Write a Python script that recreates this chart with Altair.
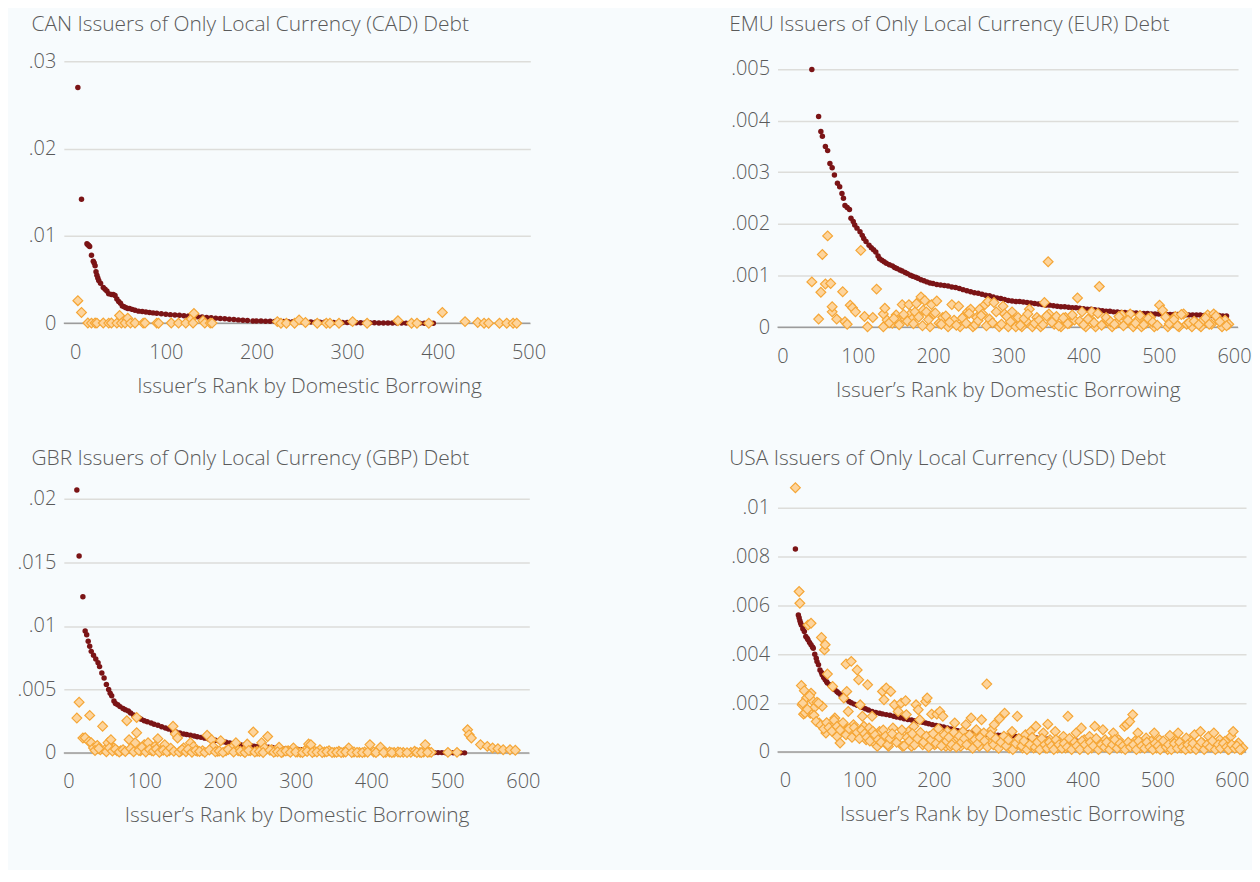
import altair as alt
import pandas as pd

FONT = "Open Sans"
BG = "#F7FBFD"
DARK = "#7B1416"
DIA_FILL = "#FDD49C"
DIA_STROKE = "#F5A636"
TXT = "#5A5A5A"
X_TITLE = "Issuer\u2019s Rank by Domestic Borrowing"

# ---------------- CAN (values in units of 1e-4) ----------------
CAN_TITLE = "CAN Issuers of Only Local Currency (CAD) Debt"
CAN_DARK = [(3, 270), (7, 142), (13, 91), (14, 90), (15, 89), (16, 88), (18, 78), (20, 71), (21, 69),
            (22, 66), (23, 59), (24, 55), (25, 52), (26, 49), (28, 46), (31, 41), (33, 39), (35, 37),
            (37, 34), (40, 33), (42, 33), (44, 32), (46, 28), (48, 25), (50, 23), (52, 20), (54, 19),
            (56, 18), (58, 17), (60, 17), (63, 16), (66, 15), (70, 14), (74, 13.5), (78, 13), (82, 12.5),
            (86, 12), (90, 11.5), (95, 11), (100, 10.5), (105, 10), (110, 9.6), (115, 9.2), (120, 8.8),
            (125, 8.4), (130, 8), (135, 7.6), (140, 7.2), (145, 6.8), (150, 6.4), (155, 6), (160, 5.6),
            (165, 5.2), (170, 4.8), (175, 4.4), (180, 4), (185, 3.6), (190, 3.2), (196, 2.8), (200, 2.7),
            (205, 2.6), (210, 2.5), (215, 2.4), (220, 2.3), (225, 2.2), (230, 2.1), (235, 2.0), (240, 1.9),
            (245, 1.8), (250, 1.7), (255, 1.6), (260, 1.5), (265, 1.4), (270, 1.3), (275, 1.2), (280, 1.1),
            (285, 1.0), (290, 1.0), (295, 0.9), (300, 0.9), (305, 0.8), (310, 0.8), (315, 0.7), (320, 0.7),
            (325, 0.6), (330, 0.6), (335, 0.5), (340, 0.5), (345, 0.5), (350, 0.4), (355, 0.4), (360, 0.4),
            (365, 0.3), (370, 0.3), (375, 0.3), (380, 0.2), (385, 0.2), (390, 0.2), (395, 0.1)]
CAN_DIA = [(3, 26), (7, 12.5), (14, 0.4), (18, 0.3), (22, 0.4), (24, 0.3), (31, 0.4), (37, 0.3), (40, 0.4),
           (46, 0.3), (49, 9), (51, 0.3), (55, 0.4), (58, 6), (61, 0.3), (66, 0.4), (75, 0.3), (77, 0.4),
           (90, 0.3), (92, 0.2), (106, 0.4), (114, 0.3), (122, 0.3), (128, 5), (130, 0.4), (131, 11.4),
           (141, 3), (143, 0.3), (149, 0.3), (151, 0.3), (223, 2), (227, 0.2), (233, 0.2), (242, 0.2),
           (247, 4), (254, 1), (267, 0.2), (277, 0.2), (281, 0.2), (291, 0.2), (306, 2), (322, 0.2),
           (356, 3), (371, 0.2), (377, 0.2), (390, 0.2), (405, 12.5), (430, 2), (444, 1), (451, 0.2),
           (456, 0.2), (468, 0.2), (476, 0.2), (483, 0.2), (487, 0.2)]

# ---------------- EMU (values in units of 1e-5) ----------------
EMU_TITLE = "EMU Issuers of Only Local Currency (EUR) Debt"
EMU_DARK = [(39, 499), (48, 408), (51, 379), (53, 370), (57, 350), (60, 342), (63, 317), (66, 309), (69, 295),
            (73, 279), (76, 272), (79, 259), (81, 250), (83, 236), (86, 232), (89, 228), (91, 211), (94, 205),
            (96, 198), (99, 192), (103, 185), (106, 178), (108, 172), (111, 166), (115, 159), (118, 154),
            (121, 150), (124, 146), (127, 138), (129, 133), (132, 130), (135, 127), (138, 124), (142, 121),
            (146, 119), (149, 116), (152, 114), (156, 111), (159, 109), (163, 106), (166, 104), (170, 101),
            (173, 99), (177, 97), (180, 95), (184, 92), (188, 90), (192, 88), (196, 86), (200, 85),
            (205, 83), (210, 82), (215, 81), (220, 80), (225, 78), (230, 77), (235, 75), (240, 73), (245, 71),
            (250, 69), (255, 67), (260, 66), (265, 64), (270, 62), (275, 61), (280, 59), (285, 57), (290, 56),
            (295, 54), (300, 52), (305, 51), (310, 50), (315, 50), (320, 49), (325, 48), (330, 47), (335, 46),
            (340, 45), (345, 44), (350, 43), (355, 43), (360, 42), (365, 41), (370, 40), (375, 40), (380, 39),
            (385, 38), (390, 38), (395, 37), (400, 36), (405, 35), (410, 35), (415, 34), (420, 33), (425, 32),
            (430, 31), (435, 31), (440, 30), (445, 30), (450, 29), (455, 29), (460, 28), (465, 28), (470, 28),
            (475, 27), (480, 27), (485, 27), (490, 26), (495, 26), (500, 26), (505, 26), (510, 25), (515, 25),
            (520, 25), (525, 25), (530, 25), (535, 24), (540, 24), (545, 24), (550, 24), (555, 24), (560, 23),
            (565, 23), (570, 23), (575, 23), (580, 23), (585, 22), (590, 22)]
EMU_DIA = [(39, 88), (48, 16), (51, 68), (53, 141), (57, 84), (60, 177), (64, 85), (66, 30), (66, 40), (72, 16),
           (80, 69), (83, 11), (86, 6), (90, 43), (93, 38), (97, 30), (104, 149), (109, 21), (113, 1), (120, 19),
           (125, 74), (134, 1), (134, 26), (136, 37), (139, 14), (146, 8), (151, 24), (153, 14), (159, 44),
           (163, 16), (168, 44), (170, 26), (172, 16), (176, 30), (178, 46), (184, 59), (187, 33), (189, 52),
           (191, 30), (196, 1), (198, 44), (201, 26), (205, 51), (208, 8), (213, 19), (220, 1), (225, 44),
           (228, 14), (234, 41), (236, 1), (241, 21), (246, 30), (250, 35), (253, 1), (258, 19), (262, 35),
           (266, 26), (269, 44), (273, 50), (277, 11), (281, 48), (288, 1), (293, 41), (295, 26), (300, 1),
           (305, 30), (307, 14), (310, 1), (313, 19), (318, 1), (324, 12), (328, 35), (332, 1), (338, 19),
           (343, 1), (348, 48), (353, 127), (354, 26), (361, 6), (364, 21), (370, 1), (376, 19), (381, 8),
           (388, 14), (392, 57), (398, 30), (403, 1), (409, 16), (411, 30), (416, 1), (421, 79), (427, 8),
           (433, 11), (438, 1), (444, 8), (451, 24), (456, 8), (462, 26), (466, 1), (473, 16), (477, 1),
           (483, 8), (489, 19), (494, 1), (501, 43), (505, 33), (512, 1), (517, 14), (522, 21), (527, 1),
           (533, 26), (537, 6), (544, 1), (551, 8), (556, 1), (559, 14), (565, 24), (570, 6), (573, 26),
           (579, 16), (584, 1), (588, 14), (593, 6),
           (142, 9), (148, 17), (155, 5), (161, 25), (166, 12), (174, 7), (181, 20), (186, 3), (194, 15),
           (203, 28), (211, 6), (217, 22), (222, 10), (231, 4), (239, 18), (244, 8), (248, 27), (256, 5),
           (260, 13), (264, 23), (271, 3), (275, 16), (279, 9), (284, 30), (291, 6), (298, 21), (303, 11),
           (316, 4), (321, 17), (326, 26), (335, 8), (341, 14), (346, 5), (351, 22), (358, 10), (367, 3),
           (373, 18), (379, 7), (385, 24), (395, 12), (400, 5), (406, 16), (414, 9), (419, 27), (424, 4),
           (430, 19), (436, 11), (441, 6), (447, 21), (453, 3), (459, 14), (469, 8), (475, 23), (480, 5),
           (486, 17), (492, 10), (498, 4), (509, 20), (514, 7), (520, 15), (525, 3), (530, 25), (540, 9),
           (547, 12), (553, 5), (562, 18), (567, 6), (576, 22), (581, 11), (590, 3)]

# ---------------- GBR (values in units of 1e-4) ----------------
GBR_TITLE = "GBR Issuers of Only Local Currency (GBP) Debt"
GBR_DARK = [(11, 207), (14, 155), (19, 123), (22, 96), (24, 93), (26, 88), (28, 84), (30, 80), (33, 77), (36, 74),
            (39, 71), (41, 68), (44, 63), (47, 59), (50, 54), (53, 50), (55, 47), (57, 45), (60, 41), (62, 39),
            (65, 38), (68, 36.5), (72, 35), (75, 34), (79, 33), (82, 31.5), (86, 30), (89, 29), (93, 27.5),
            (96, 26.5), (100, 25.4), (104, 24.6), (109, 23.6), (113, 22.7), (118, 21.8), (123, 20.7),
            (128, 19.7), (132, 18.8), (137, 17.6), (142, 16.6), (147, 15.7), (152, 15), (156, 14.5),
            (161, 13.9), (166, 13.3), (170, 12.8), (175, 12.3), (180, 11.7), (185, 11), (189, 10.5),
            (194, 10), (199, 9.4), (204, 8.8), (208, 8.4), (213, 7.9), (218, 7.4), (222, 7), (227, 6.6),
            (232, 6.3), (236, 6), (241, 5.7), (245, 5.4), (250, 5.1), (255, 4.9), (260, 4.7), (264, 4.5),
            (269, 4.3), (274, 4.0), (279, 3.7), (283, 3.4), (288, 3.2), (293, 3.0), (298, 2.9), (303, 2.7),
            (308, 2.5), (313, 2.3), (318, 2.2), (323, 2.0), (328, 1.9), (333, 1.8), (338, 1.7), (343, 1.6),
            (348, 1.5), (353, 1.4), (358, 1.3), (363, 1.25), (368, 1.2), (373, 1.1), (378, 1.0), (383, 1.0),
            (388, 0.9), (393, 0.9), (398, 0.8), (403, 0.8), (408, 0.75), (413, 0.7), (418, 0.65), (423, 0.6),
            (428, 0.55), (433, 0.5), (438, 0.5), (443, 0.5), (448, 0.45), (453, 0.45), (458, 0.4), (463, 0.4),
            (468, 0.35), (473, 0.3), (478, 0.3), (483, 0.3), (488, 0.3), (493, 0.3), (498, 0.25), (503, 0.2),
            (508, 0.2), (513, 0.15), (518, 0.1), (523, 0.1)]
GBR_DIA = [(11, 27.5), (14, 40), (19, 11.8), (22, 12), (27, 9), (28, 29.6), (30, 8), (33, 4), (38, 6), (42, 2.6),
           (45, 21), (48, 2.6), (52, 8), (56, 10.5), (60, 4), (64, 1.8), (69, 1.8), (77, 25.4), (80, 10.5),
           (84, 2.6), (88, 8), (90, 28), (90, 16), (95, 1.8), (100, 6.6), (105, 8), (110, 1.8), (114, 5.2),
           (118, 11.3), (122, 1.8), (127, 6.6), (133, 1.8), (138, 21), (141, 15), (144, 11.8), (148, 1.3),
           (152, 4), (161, 8), (165, 5.2), (170, 1.3), (177, 1.8), (183, 13.9), (189, 10.5), (191, 5.2),
           (197, 1.3), (201, 9.7), (208, 1.8), (215, 4), (221, 8), (224, 1.8), (231, 1.3), (236, 7),
           (240, 1.8), (244, 16.5), (249, 1.3), (255, 8), (259, 4), (263, 13), (268, 2.6), (273, 1.3),
           (278, 4.5), (283, 0.8), (290, 1.8), (297, 4), (302, 0.8), (306, 0.5), (312, 1.8), (317, 7),
           (320, 6.6), (325, 1.3), (332, 2.6), (338, 0.8), (344, 1.8), (351, 0.5), (357, 1.3), (363, 0.5),
           (370, 4), (377, 0.8), (384, 0.5), (391, 0.8), (398, 6.6), (403, 0.8), (409, 1.8), (412, 4.5),
           (419, 0.5), (424, 0.8), (430, 0.5), (435, 0.8), (442, 0.5), (452, 0.5), (457, 1.3), (464, 0.5),
           (469, 0.8), (471, 6.6), (476, 0.8), (479, 0.5), (501, 0.5), (513, 0.5), (527, 18.3), (529, 14.4),
           (532, 11.8), (544, 6.6), (553, 5.2), (560, 4), (567, 3.4), (574, 2.6), (583, 2.6), (590, 2.1),
           (35, 2), (40, 3.5), (50, 1), (54, 4), (58, 1.5), (62, 3), (67, 0.8), (72, 2.5), (75, 1.2), (82, 3.5),
           (86, 1), (93, 2), (97, 4.5), (102, 0.8), (107, 2.8), (112, 1.5), (116, 3.2), (120, 0.6), (125, 2.2),
           (130, 1), (135, 3.8), (139, 1.4), (146, 0.7), (150, 2.6), (155, 1), (158, 3), (163, 0.6), (168, 2),
           (173, 1.2), (180, 0.5), (186, 2.4), (194, 0.9), (199, 1.6), (204, 0.5), (211, 2.8), (218, 0.7),
           (227, 1.4), (233, 0.4), (238, 2), (246, 0.8), (252, 1.2), (257, 0.4), (266, 2.2), (271, 0.6),
           (276, 1), (281, 0.3), (287, 1.6), (293, 0.5), (300, 0.8), (309, 0.3), (315, 1.2), (322, 0.4),
           (328, 0.7), (335, 0.3), (341, 1), (348, 0.4), (354, 0.6), (360, 0.3), (366, 0.8), (374, 0.3),
           (381, 0.5), (388, 0.3), (395, 0.6), (406, 0.3), (416, 0.4), (427, 0.3), (438, 0.5), (447, 0.3),
           (460, 0.4), (466, 0.3), (474, 0.5)]

# ---------------- USA (values in units of 1e-5) ----------------
USA_TITLE = "USA Issuers of Only Local Currency (USD) Debt"
USA_DARK = [(14, 831), (18, 561), (19, 550), (20, 537), (21, 528), (22, 520), (24, 505), (26, 493), (28, 473),
            (30, 465), (31, 459), (33, 448), (35, 439), (37, 430), (38, 425), (40, 400), (42, 384), (43, 370),
            (45, 357), (47, 336), (49, 325), (50, 316), (52, 305), (54, 296), (56, 288), (57, 282), (60, 275),
            (62, 268), (65, 262), (67, 255), (70, 247), (72, 241), (75, 233), (79, 221), (82, 215), (86, 207),
            (89, 202), (93, 196), (97, 191), (101, 187), (104, 182), (108, 177), (112, 172), (117, 166),
            (122, 162), (127, 159), (131, 156), (136, 153), (141, 150), (146, 146), (150, 143), (155, 140),
            (160, 136), (165, 133), (170, 131), (175, 128), (180, 125), (185, 122), (189, 119), (193, 116),
            (198, 112), (203, 109), (208, 105), (213, 102), (218, 98), (223, 94), (228, 90), (232, 87),
            (237, 85), (242, 82), (247, 80), (252, 78), (257, 77), (261, 76), (266, 74), (271, 73), (276, 72),
            (281, 70), (286, 69), (290, 68), (295, 67), (300, 66), (305, 65), (310, 64), (314, 64), (319, 62),
            (324, 61), (329, 59), (334, 58), (338, 57), (343, 56), (348, 54), (353, 53), (357, 51), (362, 50),
            (367, 49), (372, 48), (377, 47), (381, 46), (386, 46), (391, 45), (396, 44), (401, 43), (405, 42),
            (410, 41), (415, 40), (420, 39), (425, 38), (430, 38), (434, 37), (439, 36), (444, 35), (449, 34),
            (453, 33), (458, 33), (463, 32), (468, 31), (473, 30), (477, 30), (482, 30), (487, 29), (492, 28),
            (497, 28), (502, 27), (506, 27), (511, 26), (516, 25), (521, 24), (526, 24), (530, 23), (535, 22),
            (540, 21), (545, 20), (550, 19), (555, 19), (560, 18), (564, 17), (569, 17), (574, 16), (578, 16),
            (583, 16), (588, 16), (593, 16), (598, 16), (602, 17), (606, 22), (610, 27)]
USA_DIA = [(14, 1082), (19, 657), (20, 609), (22, 272), (23, 193), (25, 155), (26, 251), (29, 221), (31, 520),
           (34, 159), (35, 527), (35, 241), (37, 210), (40, 183), (43, 204), (46, 119), (49, 469), (50, 187),
           (53, 418), (54, 439), (55, 78), (57, 319), (61, 112), (64, 268), (65, 91), (67, 139), (70, 64),
           (74, 37), (77, 112), (79, 221), (82, 360), (83, 248), (85, 166), (89, 371), (92, 112), (94, 71),
           (97, 336), (99, 296), (101, 193), (104, 146), (106, 105), (109, 50), (111, 275), (113, 98),
           (117, 146), (120, 37), (124, 23), (127, 84), (131, 248), (133, 214), (136, 262), (139, 23),
           (142, 248), (145, 98), (147, 193), (148, 50), (152, 166), (156, 200), (158, 23), (162, 210),
           (163, 153), (166, 84), (170, 23), (173, 105), (176, 193), (179, 173), (181, 132), (185, 30),
           (189, 207), (191, 221), (194, 64), (197, 155), (201, 30), (204, 155), (206, 95), (208, 166),
           (212, 146), (216, 23), (218, 84), (222, 23), (225, 44), (228, 119), (232, 57), (236, 23), (239, 84),
           (243, 112), (246, 30), (250, 139), (254, 57), (257, 91), (261, 23), (264, 132), (267, 78),
           (271, 278), (275, 37), (278, 91), (281, 112), (285, 23), (288, 136), (291, 37), (295, 159),
           (298, 57), (301, 16), (305, 84), (308, 23), (312, 146), (316, 50), (319, 16), (323, 71), (327, 23),
           (330, 84), (334, 16), (337, 105), (340, 44), (343, 23), (347, 78), (350, 16), (353, 114), (356, 50),
           (359, 23), (363, 84), (366, 16), (370, 44), (374, 64), (377, 16), (380, 146), (383, 44), (387, 23),
           (391, 78), (395, 16), (398, 98), (402, 50), (405, 23), (409, 64), (412, 16), (416, 105), (420, 37),
           (423, 16), (427, 91), (430, 50), (434, 16), (438, 44), (441, 78), (445, 23), (448, 50), (452, 16),
           (456, 105), (459, 112), (463, 125), (467, 153), (470, 44), (474, 78), (477, 16), (481, 37),
           (485, 57), (488, 23), (492, 44), (496, 78), (499, 16), (503, 50), (507, 23), (510, 37), (514, 10),
           (517, 68), (521, 23), (525, 44), (528, 78), (532, 16), (536, 37), (539, 57), (543, 16), (546, 44),
           (550, 71), (554, 23), (558, 84), (561, 37), (565, 16), (569, 64), (572, 30), (576, 78), (580, 16),
           (584, 50), (587, 23), (591, 44), (595, 10), (599, 64), (602, 84), (606, 23), (609, 37), (613, 10),
           (615, 16),
           (24, 200), (27, 160), (30, 175), (33, 230), (39, 150), (42, 125), (45, 200), (48, 110), (52, 95),
           (56, 120), (59, 100), (63, 85), (66, 130), (70, 105), (74, 90), (78, 120), (82, 70), (86, 95),
           (90, 60), (93, 100), (97, 80), (100, 55), (103, 90), (107, 75), (110, 60), (114, 45), (118, 85),
           (121, 70), (125, 50), (129, 40), (132, 90), (135, 65), (138, 30), (141, 55), (144, 75), (150, 40),
           (154, 65), (157, 90), (160, 25), (164, 60), (167, 45), (171, 75), (174, 30), (178, 55), (182, 80),
           (186, 40), (190, 65), (193, 20), (196, 50), (199, 75), (203, 35), (207, 60), (210, 25), (214, 70),
           (217, 45), (220, 60), (224, 30), (227, 80), (230, 20), (234, 65), (237, 40), (241, 55), (244, 30),
           (248, 70), (252, 15), (255, 50), (259, 35), (262, 60), (268, 45), (272, 20), (276, 70), (280, 30),
           (283, 55), (287, 15), (290, 40), (294, 65), (297, 25), (300, 50), (306, 10), (310, 35), (314, 55),
           (318, 25), (321, 45), (325, 10), (329, 30), (332, 60), (336, 20), (339, 40), (342, 10), (345, 55),
           (349, 30), (352, 15), (355, 40), (358, 25), (361, 10), (364, 50), (368, 30), (372, 15), (375, 35),
           (379, 20), (382, 55), (385, 10), (389, 40), (392, 25), (396, 10), (399, 45), (403, 30), (407, 10),
           (410, 40), (414, 25), (418, 55), (421, 10), (425, 30), (429, 20), (432, 40), (436, 10), (440, 30),
           (443, 50), (446, 15), (450, 35), (454, 25), (457, 10), (461, 40), (464, 20), (468, 30), (472, 10),
           (475, 45), (479, 25), (483, 15), (486, 40), (490, 20), (494, 10), (497, 35), (501, 25), (504, 10),
           (508, 45), (512, 20), (515, 30), (519, 10), (523, 35), (527, 15), (530, 40), (534, 20), (538, 10),
           (541, 30), (545, 15), (548, 35), (552, 10), (556, 25), (559, 40), (563, 10), (567, 30), (571, 20),
           (574, 45), (578, 10), (582, 30), (585, 15), (589, 35), (593, 20), (596, 10), (600, 30), (604, 15),
           (607, 25), (611, 10)]

X_TICKS_500 = [0, 100, 200, 300, 400, 500]
X_TICKS_600 = [0, 100, 200, 300, 400, 500, 600]


def panel(title, dark, dia, unit, xdom, ydom, yticks, xticks, w, h, title_dx, title_offset, title_shift=0):
    d = pd.DataFrame(dark, columns=["rank", "v"])
    d["v"] = d["v"] * unit
    p = pd.DataFrame(dia, columns=["rank", "v"])
    p["v"] = p["v"] * unit
    z = pd.DataFrame({"v": [0.0]})

    xs = alt.Scale(domain=xdom, nice=False, zero=False)
    ys = alt.Scale(domain=ydom, nice=False, zero=False)
    xaxis = alt.Axis(values=xticks, title=X_TITLE, grid=False, ticks=False, domain=False,
                     labelFontSize=20, labelColor=TXT, labelFont=FONT, labelFontWeight=300, labelPadding=19,
                     titleFontSize=21, titleColor=TXT, titleFont=FONT, titleFontWeight=300,
                     titlePadding=13, titleX=w / 2 + title_shift, labelFlush=False)
    yaxis = alt.Axis(values=yticks, format=".3~f", labelExpr="replace(datum.label, '0.', '.')",
                     title=None, grid=True, gridColor="#DDDDDA", gridWidth=1.5, ticks=False,
                     domain=False, labelFontSize=20, labelColor=TXT, labelFont=FONT, labelFontWeight=300,
                     labelPadding=8)
    X = alt.X("rank:Q", scale=xs, axis=xaxis)
    Y = alt.Y("v:Q", scale=ys, axis=yaxis)

    rule = alt.Chart(z).mark_rule(color="#9C9C9C", strokeWidth=1.5).encode(y=alt.Y("v:Q", scale=ys, axis=yaxis))
    dots = alt.Chart(d).mark_circle(size=30, color=DARK, opacity=1).encode(x=X, y=Y)
    dias = alt.Chart(p).mark_point(shape="diamond", size=96, fill=DIA_FILL, stroke=DIA_STROKE,
                                   strokeWidth=1.2, opacity=1, fillOpacity=1).encode(x=X, y=Y)
    return alt.layer(rule, dots, dias).properties(
        width=w, height=h,
        title=alt.TitleParams(title, anchor="start", frame="group", dx=title_dx, fontSize=21, font=FONT,
                              fontWeight=300, color=TXT, offset=title_offset),
    )


p1 = panel(CAN_TITLE, CAN_DARK, CAN_DIA, 1e-4, [-12.5, 502], [0, 0.03],
           [0, 0.01, 0.02, 0.03], X_TICKS_500, 468, 263, -32.5, 16, 12)
p2 = panel(EMU_TITLE, EMU_DARK, EMU_DIA, 1e-5, [-6.6, 605.3], [0, 0.00515],
           [0, 0.001, 0.002, 0.003, 0.004, 0.005], X_TICKS_600, 462, 267, -48.5, 24)
p3 = panel(GBR_TITLE, GBR_DARK, GBR_DIA, 1e-4, [-6.2, 608.5], [0, 0.0215],
           [0, 0.005, 0.01, 0.015, 0.02], X_TICKS_600, 467, 274, -32.5, 10.7)
p4 = panel(USA_TITLE, USA_DARK, USA_DIA, 1e-5, [-10, 619.2], [0, 0.01114],
           [0, 0.002, 0.004, 0.006, 0.008, 0.01], X_TICKS_600, 470, 273, -48.5, 10.7)

chart = alt.concat(p1, p2, p3, p4, columns=2, bounds="flush", align="all",
                   spacing={"row": 146, "column": 246}).properties(
    padding={"left": 8, "top": 4, "right": 0, "bottom": 43}
).configure(background=BG).configure_view(stroke=None)

chart.save("out.html", embed_options={"renderer": "svg", "actions": False})
